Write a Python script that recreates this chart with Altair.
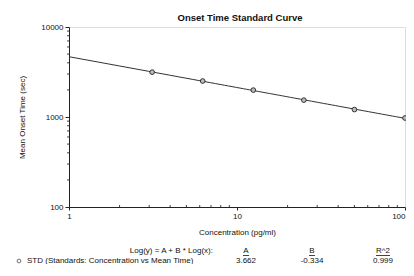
import altair as alt
import pandas as pd

# Data
conc = [3.125, 6.25, 12.5, 25, 50, 100]
mean_time = [3150, 2510, 1990, 1540, 1210, 975]

x_major = [1, 10, 100]
y_major = [100, 1000, 10000]
x_minor = [2, 3, 4, 5, 6, 7, 8, 9, 20, 30, 40, 50, 60, 70, 80, 90]
y_minor = [200, 300, 400, 500, 600, 700, 800, 900,
           2000, 3000, 4000, 5000, 6000, 7000, 8000, 9000]

fit_label = "Log(y) = A + B * Log(x):"
col_heads = ["A", "B", "R^2"]
col_vals = ["3.662", "-0.334", "0.999"]
series_name = "STD (Standards: Concentration vs Mean Time)"

W, H = 336, 180
FONT = "Liberation Sans"

df = pd.DataFrame({"conc": conc, "time": mean_time})

xs = alt.Scale(type="log", domain=[1, 100], nice=False)
ys = alt.Scale(type="log", domain=[100, 10000], nice=False)

base = alt.Chart(df)

fit = base.transform_regression(
    "conc", "time", method="pow", extent=[1, 100]
).mark_line(color="#333333", strokeWidth=1, clip=True).encode(
    x=alt.X("conc:Q", scale=xs, title="Concentration (pg/ml)",
            axis=alt.Axis(values=x_major, format="d", grid=False,
                          labelFontSize=8, labelFont=FONT, titleFont=FONT,
                          titleFontSize=8, titleFontWeight="normal",
                          titlePadding=8, tickSize=3, labelPadding=2,
                          domainColor="#222", tickColor="#222",
                          labelColor="#111", titleColor="#111",
                          labelFlush=False,
                          labelAlign={"condition": {"test": "datum.value >= 100",
                                                    "value": "right"},
                                      "value": "center"})),
    y=alt.Y("time:Q", scale=ys, title="Mean Onset Time (sec)",
            axis=alt.Axis(values=y_major, format="d", grid=False,
                          labelFontSize=8, labelFont=FONT, titleFont=FONT,
                          titleFontSize=8, titleFontWeight="normal",
                          titlePadding=14, tickSize=4, labelPadding=2,
                          domainColor="#222", tickColor="#222",
                          labelColor="#111", titleColor="#111")),
)

pts = base.mark_point(shape="circle", size=22, filled=True, fill="#bbbbbb",
                      stroke="#333333", strokeWidth=1, opacity=1).encode(
    x=alt.X("conc:Q", scale=xs), y=alt.Y("time:Q", scale=ys))

xminor_df = pd.DataFrame({"v": x_minor})
yminor_df = pd.DataFrame({"v": y_minor})

xmin_ticks = alt.Chart(xminor_df).mark_rule(color="#444", strokeWidth=1).encode(
    x=alt.X("v:Q", scale=xs), y=alt.value(H - 2), y2=alt.value(H))
ymin_ticks = alt.Chart(yminor_df).mark_rule(color="#444", strokeWidth=1).encode(
    y=alt.Y("v:Q", scale=ys), x=alt.value(-2), x2=alt.value(0))

ROW1, ROW2 = 224, 234

# Fit table below the chart
tdf = pd.DataFrame({"t": [fit_label]})
fit_text = alt.Chart(tdf).mark_text(
    align="right", baseline="middle", fontSize=8, font=FONT, color="#111"
).encode(text="t:N", x=alt.value(144), y=alt.value(ROW1))

col_x = [177, 243, 314]
hdf = pd.DataFrame({"h": col_heads, "v": col_vals, "px": col_x})
heads = alt.Chart(hdf).mark_text(
    align="center", baseline="middle", fontSize=8, font=FONT, color="#111"
).encode(text="h:N", x=alt.X("px:Q", scale=None), y=alt.value(ROW1))
vals = alt.Chart(hdf).mark_text(
    align="center", baseline="middle", fontSize=8, font=FONT, color="#111"
).encode(text="v:N", x=alt.X("px:Q", scale=None), y=alt.value(ROW2))

udf = pd.DataFrame({"px": col_x, "hw": [3, 3, 7]})
underl = alt.Chart(udf).transform_calculate(
    a="datum.px - datum.hw", b="datum.px + datum.hw"
).mark_rule(color="#111", strokeWidth=0.8).encode(
    x=alt.X("a:Q", scale=None), x2="b:Q", y=alt.value(ROW1 + 4.5))

sdf = pd.DataFrame({"s": [series_name]})
series_text = alt.Chart(sdf).mark_text(
    align="left", baseline="middle", fontSize=8, font=FONT, color="#111"
).encode(text="s:N", x=alt.value(-42), y=alt.value(ROW2))
series_marker = alt.Chart(sdf).mark_point(
    shape="circle", size=14, filled=False, stroke="#333", strokeWidth=1
).encode(x=alt.value(-50), y=alt.value(ROW2))

chart = alt.layer(
    fit, pts, xmin_ticks, ymin_ticks, fit_text, heads, vals, underl,
    series_text, series_marker
).properties(
    width=W, height=H,
    title=alt.TitleParams("Onset Time Standard Curve", fontSize=9.5,
                          font=FONT, fontWeight="bold", anchor="middle",
                          offset=1, dx=3, color="#111"),
    autosize=alt.AutoSizeParams(type="none"),
    padding={"left": 61, "top": 19, "right": 1, "bottom": 57},
).configure_view(stroke="#555", strokeWidth=1).configure(background="white")

chart.save("out.html", embed_options={"renderer": "svg", "actions": False})
